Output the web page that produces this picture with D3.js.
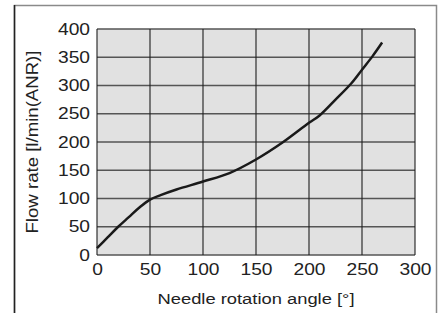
<!DOCTYPE html>
<html>
<head>
<meta charset="utf-8">
<script src="https://cdn.jsdelivr.net/npm/d3@7"></script>
<style>
  body { margin: 0; background: #fff; }
  text { font-family: "Liberation Sans", Arial, sans-serif; fill: #222; }
</style>
</head>
<body>
<svg width="446" height="313"></svg>
<script>
// curve
var angles = [0, 10, 20, 30, 40, 50, 60, 75, 100, 125, 150, 175, 200, 210, 225, 240, 250, 260, 269];
var flows  = [12, 31, 50, 67, 84, 98, 106, 116, 130, 145, 169, 199, 234, 247, 275, 304, 328, 352, 376];

var xTicks = [0, 50, 100, 150, 200, 250, 300];
var yTicks = [0, 50, 100, 150, 200, 250, 300, 350, 400];

var svg = d3.select('svg');
var padding = {t: 29, r: 31, b: 58, l: 97};
var chartWidth = 446 - padding.l - padding.r;
var chartHeight = 313 - padding.t - padding.b;

// the glyphs in the picture are drawn wider than the font
var stretch = 1.2;

var xScale = d3.scaleLinear().domain([0, 300]).range([0, chartWidth]);
var yScale = d3.scaleLinear().domain([0, 400]).range([chartHeight, 0]);

// outer frame
svg.append('path')
    .attr('d', 'M14.5,313V5.5H436.5V313')
    .attr('fill', 'none')
    .attr('stroke', '#8a8a8a')
    .attr('stroke-width', 1.5);
svg.append('line')
    .attr('x1', 14.5).attr('x2', 14.5)
    .attr('y1', 5).attr('y2', 313)
    .attr('stroke', '#222')
    .attr('stroke-width', 1.5);

var chartG = svg.append('g')
    .attr('transform', 'translate(' + [padding.l, padding.t] + ')');

chartG.append('rect')
    .attr('width', chartWidth)
    .attr('height', chartHeight)
    .attr('fill', '#e1e1e1');

// grid
chartG.selectAll('.hgrid')
    .data(yTicks)
    .enter().append('line')
    .attr('class', 'hgrid')
    .attr('x1', 0).attr('x2', chartWidth)
    .attr('y1', function(d){ return yScale(d); })
    .attr('y2', function(d){ return yScale(d); })
    .attr('stroke', '#555')
    .attr('stroke-width', 1.3);

chartG.selectAll('.vgrid')
    .data(xTicks)
    .enter().append('line')
    .attr('class', 'vgrid')
    .attr('y1', 0).attr('y2', chartHeight)
    .attr('x1', function(d){ return xScale(d); })
    .attr('x2', function(d){ return xScale(d); })
    .attr('stroke', '#1e1e1e')
    .attr('stroke-width', 1.1);

// axes (labels only)
var xAxis = d3.axisBottom(xScale).tickValues(xTicks).tickSize(0).tickPadding(9);
var yAxis = d3.axisLeft(yScale).tickValues(yTicks).tickSize(0).tickPadding(7);

function widen(sel) {
    sel.each(function(){
        var w = this.getComputedTextLength();
        d3.select(this)
            .attr('textLength', w * stretch)
            .attr('lengthAdjust', 'spacingAndGlyphs');
    });
}

chartG.append('g')
    .attr('transform', 'translate(0,' + chartHeight + ')')
    .call(xAxis)
    .call(function(g){ g.select('.domain').remove(); })
    .selectAll('text')
    .style('font-size', '16px')
    .attr('fill', '#222')
    .call(widen);

chartG.append('g')
    .call(yAxis)
    .call(function(g){ g.select('.domain').remove(); })
    .selectAll('text')
    .style('font-size', '16px')
    .attr('fill', '#222')
    .call(widen);

// curve
var points = angles.map(function(a, i){ return [a, flows[i]]; });
var line = d3.line()
    .x(function(d){ return xScale(d[0]); })
    .y(function(d){ return yScale(d[1]); })
    .curve(d3.curveCatmullRom.alpha(0.5));

chartG.append('path')
    .datum(points)
    .attr('d', line)
    .attr('fill', 'none')
    .attr('stroke', '#1a1a1a')
    .attr('stroke-width', 2.5);

// titles
svg.append('text')
    .attr('x', padding.l + chartWidth / 2)
    .attr('y', 304)
    .attr('text-anchor', 'middle')
    .style('font-size', '15.5px')
    .attr('textLength', 197)
    .attr('lengthAdjust', 'spacingAndGlyphs')
    .text('Needle rotation angle [°]');

svg.append('text')
    .attr('transform', 'translate(38,' + (padding.t + chartHeight / 2) + ') rotate(-90)')
    .attr('text-anchor', 'middle')
    .style('font-size', '16.5px')
    .attr('textLength', 183)
    .attr('lengthAdjust', 'spacingAndGlyphs')
    .text('Flow rate [l/min(ANR)]');
</script>
</body>
</html>
